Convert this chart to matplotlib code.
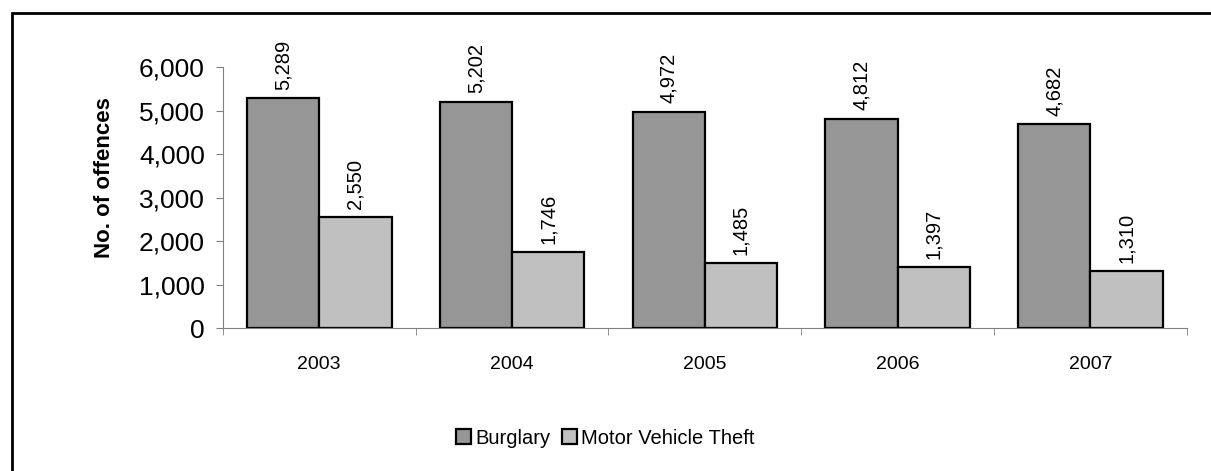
import numpy as np
import matplotlib.pyplot as plt
from matplotlib.patches import Rectangle

plt.rcParams['font.family'] = ['Liberation Sans', 'DejaVu Sans']

years = ['2003', '2004', '2005', '2006', '2007']
burglary = [5289, 5202, 4972, 4812, 4682]
mvt = [2550, 1746, 1485, 1397, 1310]

fig = plt.figure(figsize=(12.11, 4.71), dpi=100)
ax = fig.add_axes([0.184, 0.3036, 0.796, 0.5541])

# outer chart border
fig.patches.append(Rectangle((12 / 1211, -0.1), 1.2, 1 - 13 / 471 + 0.1,
                             transform=fig.transFigure, fill=False,
                             edgecolor='black', linewidth=2))

x = np.arange(len(years))
w = 0.375
b1 = ax.bar(x - w / 2, burglary, w, color='#969696', edgecolor='black',
            linewidth=1.6, label='Burglary')
b2 = ax.bar(x + w / 2, mvt, w, color='#c0c0c0', edgecolor='black',
            linewidth=1.6, label='Motor Vehicle Theft')

for bars, vals in [(b1, burglary), (b2, mvt)]:
    for r, v in zip(bars, vals):
        ax.annotate(f'{v:,}', (r.get_x() + r.get_width() / 2, v),
                    xytext=(0, 6), textcoords='offset points',
                    rotation=90, ha='center', va='bottom', fontsize=14.5)

ax.set_xlim(-0.5, len(years) - 0.5)
ax.set_ylim(0, 6000)
ax.set_yticks(range(0, 6001, 1000))
ax.set_yticklabels([f'{v:,}' for v in range(0, 6001, 1000)], fontsize=19)
ax.set_xticks(x)
ax.set_xticklabels(years, fontsize=14)
ax.tick_params(axis='x', length=0, pad=20)
ax.set_xticks(np.arange(-0.5, len(years)), minor=True)
ax.tick_params(axis='x', which='minor', length=5, color='#808080')
ax.tick_params(axis='y', length=5, color='#808080', pad=8)

for s in ['top', 'right']:
    ax.spines[s].set_visible(False)
for s in ['left', 'bottom']:
    ax.spines[s].set_color('#808080')

fig.text(105 / 1211, 1 - 178 / 471, 'No. of offences', rotation=90,
         ha='center', va='center', fontsize=16, fontweight='bold')

fig.legend(loc='center', bbox_to_anchor=(0.5, 1 - 438 / 471), ncol=2,
           frameon=False, fontsize=14.5, handlelength=0.75, handleheight=0.75,
           handletextpad=0.2, columnspacing=0.6)

fig.savefig('out.png', dpi=100)
